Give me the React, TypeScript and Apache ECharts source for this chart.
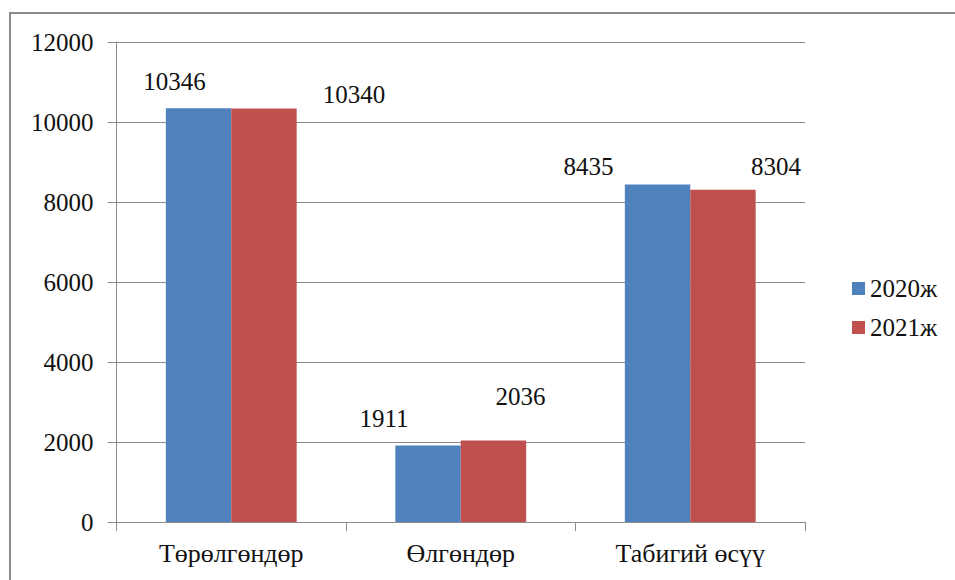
import React, { useEffect, useRef } from "react";
import * as echarts from "echarts";

const categories = ["Төрөлгөндөр", "Өлгөндөр", "Табигий өсүү"];
const seriesNames = ["2020ж", "2021ж"];
const values2020 = [10346, 1911, 8435];
const values2021 = [10340, 2036, 8304];
const yTicks = { min: 0, max: 12000, interval: 2000 };

// label placement offsets (layout only)
const offsets2020: [number, number][] = [[-24, -14], [-44, -15], [-69, -6]];
const offsets2021: [number, number][] = [[90, -1], [27, -32], [53, -11]];

const FONT = "serif";

export default function App() {
  const ref = useRef<HTMLDivElement>(null);
  useEffect(() => {
    if (!ref.current) return;
    const chart = echarts.init(ref.current, undefined, { renderer: "svg" });
    const mk = (vals: number[], offs: [number, number][]) =>
      vals.map((v, i) => ({ value: v, label: { offset: offs[i] } }));
    const labelStyle = {
      show: true,
      position: "top",
      distance: 0,
      fontFamily: FONT,
      fontSize: 25,
      color: "#111",
    };
    chart.setOption({
      animation: false,
      textStyle: { fontFamily: FONT },
      graphic: [
        {
          type: "rect",
          shape: { x: 10, y: 13, width: 1100, height: 1000 },
          style: { fill: "none", stroke: "#8a8a8a", lineWidth: 2 },
          silent: true,
        },
      ],
      grid: { left: 116.5, right: 150, top: 42, bottom: 58 },
      legend: {
        orient: "vertical",
        left: 847,
        top: 271,
        itemWidth: 13,
        itemHeight: 13,
        itemGap: 14,
        icon: "rect",
        textStyle: { fontFamily: FONT, fontSize: 25, color: "#111" },
        data: seriesNames,
      },
      xAxis: {
        type: "category",
        data: categories,
        axisLine: { lineStyle: { color: "#8c8c8c", width: 1 } },
        axisTick: { show: true, length: 9, lineStyle: { color: "#8c8c8c" } },
        axisLabel: { fontFamily: FONT, fontSize: 26, color: "#111", margin: 18 },
      },
      yAxis: {
        type: "value",
        min: yTicks.min,
        max: yTicks.max,
        interval: yTicks.interval,
        axisLine: { show: true, lineStyle: { color: "#8c8c8c", width: 1 } },
        axisTick: { show: true, length: 9, lineStyle: { color: "#8c8c8c" } },
        splitLine: { lineStyle: { color: "#8c8c8c", width: 1 } },
        axisLabel: {
          fontFamily: FONT,
          fontSize: 25,
          color: "#111",
          margin: 23,
          formatter: (v: number) => String(v),
        },
      },
      series: [
        {
          name: seriesNames[0],
          type: "bar",
          data: mk(values2020, offsets2020),
          itemStyle: { color: "#4F81BD" },
          barGap: "0%",
          barCategoryGap: "43%",
          label: labelStyle,
        },
        {
          name: seriesNames[1],
          type: "bar",
          data: mk(values2021, offsets2021),
          itemStyle: { color: "#C0504D" },
          barGap: "0%",
          barCategoryGap: "43%",
          label: labelStyle,
        },
      ],
    });
    return () => chart.dispose();
  }, []);
  return (
    <div
      ref={ref}
      style={{ position: "absolute", left: 0, top: 0, width: 955, height: 580, background: "#fff" }}
    />
  );
}
